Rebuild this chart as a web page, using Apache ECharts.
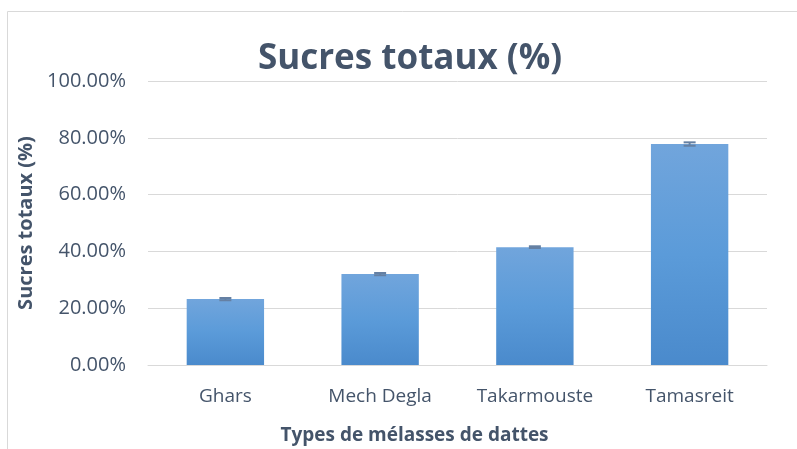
<!DOCTYPE html>
<html><head><meta charset="utf-8">
<script src="https://cdn.jsdelivr.net/npm/echarts@6/dist/echarts.min.js"></script>
<style>html,body{margin:0;padding:0;background:#fff}#c{width:797px;height:449px}</style>
</head><body><div id="c"></div>
<script>
var categories = ['Ghars', 'Mech Degla', 'Takarmouste', 'Tamasreit'];
var values = [23.2, 32.0, 41.5, 77.8];
var errors = [0.4, 0.4, 0.3, 0.6];
var yTicks = [0, 20, 40, 60, 80, 100];

var textColor = '#44546A';
var font = 'Open Sans';
var chart = echarts.init(document.getElementById('c'));
chart.setOption({
  animation: false,
  graphic: [{type:'rect', shape:{x:7.5,y:11.5,width:800,height:450}, style:{fill:'none', stroke:'#D9D9D9', lineWidth:1}}],
  title: {text:'Sucres totaux (%)', left:405, textAlign:'center', top:37, textStyle:{fontFamily:font, fontWeight:'bold', fontSize:35, color:textColor}},
  grid: {left:148, right:30, top:81, bottom:84, containLabel:false, outerBoundsMode:'none'},
  xAxis: {type:'category', data:categories, name:'Types de mélasses de dattes', nameLocation:'middle', nameGap:61,
    nameTextStyle:{fontFamily:font, fontWeight:'bold', fontSize:19, color:textColor, padding:[0,86,0,0]},
    axisLine:{lineStyle:{color:'#D9D9D9', width:1}}, axisTick:{show:false},
    axisLabel:{interval:0, fontFamily:font, fontSize:19, color:textColor, margin:22}},
  yAxis: {type:'value', min:0, max:100, interval:20, name:'Sucres totaux (%)', nameLocation:'middle', nameGap:106,
    nameTextStyle:{fontFamily:font, fontWeight:'bold', fontSize:20, color:textColor},
    axisLine:{show:false}, axisTick:{show:false},
    splitLine:{lineStyle:{color:'#D9D9D9', width:1}},
    axisLabel:{fontFamily:font, fontSize:20, color:textColor, margin:22, formatter:function(v){return yTicks.indexOf(v)>=0 ? v.toFixed(2)+'%' : '';}}},
  series: [{type:'bar', data:values, barWidth:'50%',
    itemStyle:{color:new echarts.graphic.LinearGradient(0,0,0,1,[{offset:0,color:'#71A5DC'},{offset:0.5,color:'#5B9BD9'},{offset:1,color:'#4A8ACC'}])}},
   {type:'custom', data:values.map(function(v,i){return [i, v-errors[i], v+errors[i]];}),
    renderItem:function(params, api){
      var lo = api.coord([api.value(0), api.value(1)]);
      var hi = api.coord([api.value(0), api.value(2)]);
      var w = 6;
      var st = {stroke:'#6580A3', lineWidth:2};
      return {type:'group', children:[
        {type:'line', shape:{x1:hi[0],y1:hi[1],x2:lo[0],y2:lo[1]}, style:st},
        {type:'line', shape:{x1:hi[0]-w,y1:hi[1],x2:hi[0]+w,y2:hi[1]}, style:st},
        {type:'line', shape:{x1:lo[0]-w,y1:lo[1],x2:lo[0]+w,y2:lo[1]}, style:st}
      ]};
    }, z:5}]
});
</script></body></html>
